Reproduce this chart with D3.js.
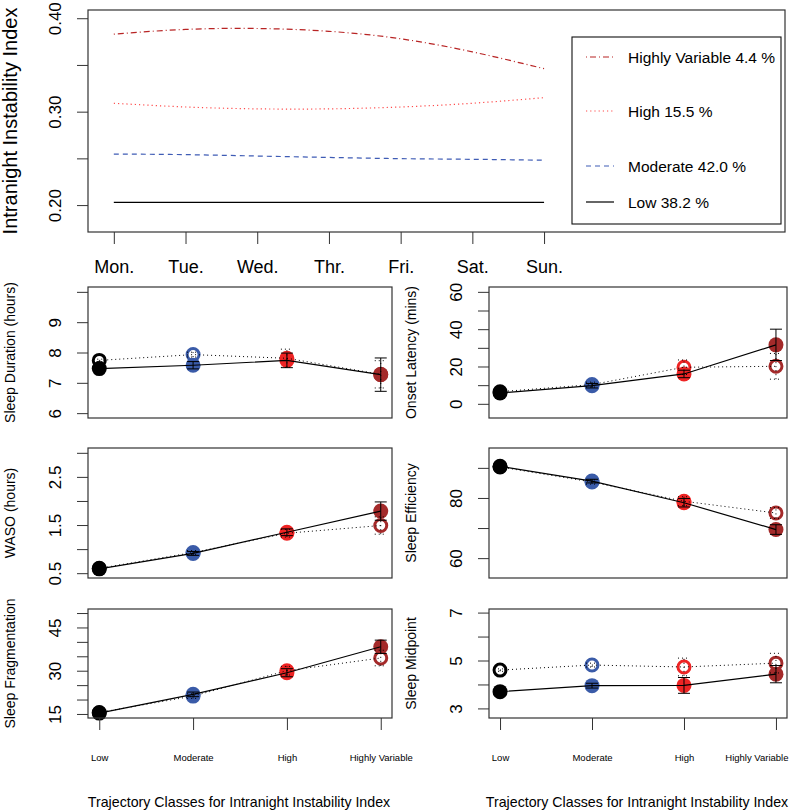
<!DOCTYPE html>
<html>
<head>
<meta charset="utf-8">
<script src="https://cdn.jsdelivr.net/npm/d3@7"></script>
<style>
  body { margin: 0; background: #fff; }
  svg { display: block; }
</style>
</head>
<body>
<div id="container"></div>
<script>
/* DATA */
const days = ["Mon.", "Tue.", "Wed.", "Thr.", "Fri.", "Sat.", "Sun."];
const classes = ["Low", "Moderate", "High", "Highly Variable"];
const classPct = ["38.2", "42.0", "15.5", "4.4"];

// intranight instability index by day, per trajectory class
const iiiLow = [0.203, 0.203, 0.203, 0.203, 0.203, 0.203, 0.203];
const iiiModerate = [0.2546, 0.254, 0.2525, 0.251, 0.2497, 0.249, 0.248];
const iiiHigh = [0.309, 0.305, 0.303, 0.303, 0.305, 0.309, 0.315];
const iiiHighlyVar = [0.383, 0.388, 0.389, 0.386, 0.378, 0.364, 0.346];
const topTicks = [0.20, 0.25, 0.30, 0.35, 0.40];
const topTickLabels = [0.20, 0.30, 0.40];

// small panels: A = filled points / solid line, B = open points / dotted line
const durationA = [7.47, 7.58, 7.74, 7.27], durationErrA = [0.04, 0.12, 0.24, 0.55];
const durationB = [7.74, 7.93, 7.81, 7.28], durationErrB = [0.04, 0.08, 0.3, 0.45];
const durationTicks = [6, 7, 8, 9, 10], durationTickLabels = [6, 7, 8, 9];

const latencyA = [5.8, 9.7, 16.0, 31.6], latencyErrA = [0.5, 1.2, 2.0, 8.4];
const latencyB = [6.5, 10.3, 19.6, 20.1], latencyErrB = [0.6, 1.3, 3.9, 6.9];
const latencyTicks = [0, 10, 20, 30, 40, 50, 60], latencyTickLabels = [0, 20, 40, 60];

const wasoA = [0.59, 0.91, 1.35, 1.79], wasoErrA = [0.02, 0.04, 0.07, 0.19];
const wasoB = [0.60, 0.93, 1.33, 1.49], wasoErrB = [0.02, 0.04, 0.08, 0.18];
const wasoTicks = [0.5, 1.0, 1.5, 2.0, 2.5, 3.0], wasoTickLabels = [0.5, 1.5, 2.5];

const efficiencyA = [90.5, 85.6, 78.4, 69.5], efficiencyErrA = [0.3, 0.6, 1.4, 1.6];
const efficiencyB = [90.3, 85.3, 78.9, 75.0], efficiencyErrB = [0.3, 0.7, 1.5, 1.8];
const efficiencyTicks = [60, 70, 80, 90], efficiencyTickLabels = [60, 80];

const fragA = [15.3, 21.8, 29.3, 38.3], fragErrA = [0.3, 0.8, 1.4, 2.3];
const fragB = [15.5, 21.2, 30.0, 34.4], fragErrB = [0.3, 0.8, 1.5, 2.7];
const fragTicks = [15, 20, 25, 30, 35, 40, 45, 50], fragTickLabels = [15, 30, 45];

const midpointA = [3.70, 3.95, 3.96, 4.43], midpointErrA = [0.05, 0.1, 0.33, 0.36];
const midpointB = [4.60, 4.81, 4.73, 4.89], midpointErrB = [0.05, 0.08, 0.37, 0.41];
const midpointTicks = [3, 4, 5, 6, 7], midpointTickLabels = [3, 5, 7];

/* CONSTANTS */
const width = 790, height = 810;
const FONT = "'Liberation Sans', Arial, Helvetica, sans-serif";
const classColors = ["#000000", "#3a5ba8", "#ee2424", "#a42a2a"];
const boxStroke = "#333";

const svg = d3.select("#container").append("svg")
  .attr("width", width)
  .attr("height", height)
  .style("font-family", FONT);

/* TOP PANEL */
function drawTop() {
  const xScale = d3.scaleLinear().domain([0.64, 10.36]).range([88, 785]);
  const yScale = d3.scaleLinear().domain([0.1712, 0.4088]).range([232, 10]);

  const series = [
    { name: "Highly Variable", pct: classPct[3], values: iiiHighlyVar, color: "#b82424", dash: "1,3,6,3" },
    { name: "High", pct: classPct[2], values: iiiHigh, color: "#ff4a4a", dash: "1.2,3" },
    { name: "Moderate", pct: classPct[1], values: iiiModerate, color: "#3f5cb5", dash: "5,4" },
    { name: "Low", pct: classPct[0], values: iiiLow, color: "#000", dash: null }
  ];

  const line = d3.line()
    .x((d, i) => xScale(i + 1))
    .y(d => yScale(d))
    .curve(d3.curveNatural);

  svg.append("g").selectAll("path")
    .data(series)
    .join("path")
    .attr("d", d => line(d.values))
    .attr("fill", "none")
    .attr("stroke", d => d.color)
    .attr("stroke-width", 1.2)
    .attr("stroke-dasharray", d => d.dash);

  // y axis
  const yAxis = svg.append("g")
    .attr("transform", "translate(88,0)")
    .call(d3.axisLeft(yScale).tickValues(topTicks).tickSize(11)
      .tickFormat(d => topTickLabels.some(v => Math.abs(v - d) < 1e-9) ? d3.format(".2f")(d) : ""));
  yAxis.select(".domain").remove();
  yAxis.selectAll("line").attr("stroke", boxStroke);
  yAxis.selectAll("text")
    .attr("x", null).attr("dy", null)
    .attr("transform", "translate(-33,0) rotate(-90)")
    .attr("text-anchor", "middle")
    .attr("dominant-baseline", "central")
    .attr("fill", "#000")
    .style("font-size", "17px")
    .style("font-family", FONT);

  // x axis
  const xAxis = svg.append("g")
    .attr("transform", "translate(0,232)")
    .call(d3.axisBottom(xScale).tickValues(d3.range(1, 8)).tickSize(12)
      .tickFormat(d => days[d - 1]));
  xAxis.select(".domain").remove();
  xAxis.selectAll("line").attr("stroke", boxStroke);
  xAxis.selectAll("text")
    .attr("y", 35).attr("dy", null)
    .attr("dominant-baseline", "central")
    .attr("fill", "#000")
    .style("font-size", "18px")
    .style("font-family", FONT);

  svg.append("rect")
    .attr("x", 88).attr("y", 10)
    .attr("width", 785 - 88).attr("height", 232 - 10)
    .attr("fill", "none").attr("stroke", boxStroke).attr("stroke-width", 1.2);

  svg.append("text")
    .attr("transform", "translate(10,121) rotate(-90)")
    .attr("text-anchor", "middle")
    .attr("dominant-baseline", "central")
    .style("font-size", "20px")
    .text("Intranight Instability Index");

  // legend
  const lg = svg.append("g");
  lg.append("rect")
    .attr("x", 572).attr("y", 37).attr("width", 209).attr("height", 187)
    .attr("fill", "#fff").attr("stroke", "#111").attr("stroke-width", 1.1);
  const legendY = [57, 111, 166, 202];
  series.forEach((s, i) => {
    lg.append("line")
      .attr("x1", 586).attr("x2", 614)
      .attr("y1", legendY[i]).attr("y2", legendY[i])
      .attr("stroke", s.color).attr("stroke-width", 1.2)
      .attr("stroke-dasharray", s.dash);
    lg.append("text")
      .attr("x", 628).attr("y", legendY[i])
      .attr("dominant-baseline", "central")
      .style("font-size", "15.5px")
      .text(`${s.name} ${s.pct} %`);
  });
}

/* SMALL PANELS */
function drawPanel(p) {
  const xScale = d3.scaleLinear().domain([0.88, 4.12]).range([p.x0, p.x1]);
  const yScale = d3.scaleLinear().domain(p.domain).range([p.y1, p.y0]);
  const g = svg.append("g");

  const ptsA = p.a.map((v, i) => ({ x: i + 1, y: v, e: p.ea[i], c: classColors[i] }));
  const ptsB = p.b.map((v, i) => ({ x: i + 1, y: v, e: p.eb[i], c: classColors[i] }));

  // filled points
  g.selectAll(".ptA").data(ptsA).join("circle")
    .attr("class", "ptA")
    .attr("cx", d => xScale(d.x)).attr("cy", d => yScale(d.y))
    .attr("r", 7.5).attr("fill", d => d.c);

  // open points (transparent rings)
  g.selectAll(".ptB").data(ptsB).join("circle")
    .attr("class", "ptB")
    .attr("cx", d => xScale(d.x)).attr("cy", d => yScale(d.y))
    .attr("r", 6).attr("fill", "none")
    .attr("stroke", d => d.c).attr("stroke-width", 3);

  const line = d3.line().x(d => xScale(d.x)).y(d => yScale(d.y));
  g.append("path").attr("d", line(ptsB))
    .attr("fill", "none").attr("stroke", "#000").attr("stroke-width", 1)
    .attr("stroke-dasharray", "1,3");
  g.append("path").attr("d", line(ptsA))
    .attr("fill", "none").attr("stroke", "#000").attr("stroke-width", 1.2);

  // error bars
  [[ptsA, null], [ptsB, "1,3"]].forEach(([pts, dash]) => {
    pts.forEach(d => {
      const cx = xScale(d.x), lo = yScale(d.y - d.e), hi = yScale(d.y + d.e);
      const bar = g.append("g")
        .attr("stroke", "#000").attr("stroke-width", 1)
        .attr("stroke-dasharray", dash);
      bar.append("line").attr("x1", cx).attr("x2", cx).attr("y1", lo).attr("y2", hi);
      bar.append("line").attr("x1", cx - 6).attr("x2", cx + 6).attr("y1", lo).attr("y2", lo);
      bar.append("line").attr("x1", cx - 6).attr("x2", cx + 6).attr("y1", hi).attr("y2", hi);
    });
  });

  // y axis
  const yAxis = svg.append("g")
    .attr("transform", `translate(${p.x0},0)`)
    .call(d3.axisLeft(yScale).tickValues(p.ticks).tickSize(11)
      .tickFormat(d => p.labels.some(v => Math.abs(v - d) < 1e-9) ? d3.format(p.fmt)(d) : ""));
  yAxis.select(".domain").remove();
  yAxis.selectAll("line").attr("stroke", boxStroke);
  yAxis.selectAll("text")
    .attr("x", null).attr("dy", null)
    .attr("transform", "translate(-33,0) rotate(-90)")
    .attr("text-anchor", "middle")
    .attr("dominant-baseline", "central")
    .attr("fill", "#000")
    .style("font-size", "17px")
    .style("font-family", FONT);

  svg.append("text")
    .attr("transform", `translate(${p.x0 - 78},${(p.y0 + p.y1) / 2}) rotate(-90)`)
    .attr("text-anchor", "middle")
    .attr("dominant-baseline", "central")
    .style("font-size", "14px")
    .text(p.title);

  if (p.bottom) {
    const xAxis = svg.append("g")
      .attr("transform", `translate(0,${p.y1})`)
      .call(d3.axisBottom(xScale).tickValues([1, 2, 3, 4]).tickSize(12)
        .tickFormat(d => classes[d - 1]));
    xAxis.select(".domain").remove();
    xAxis.selectAll("line").attr("stroke", boxStroke);
    xAxis.selectAll("text")
      .attr("y", 39).attr("dy", null)
      .attr("dominant-baseline", "central")
      .attr("fill", "#000")
      .style("font-size", "9.5px")
      .style("font-family", FONT);
    // keep the last label inside the page
    xAxis.selectAll(".tick").each(function (d) {
      const t = d3.select(this).select("text");
      const tx = xScale(d), w = t.node().getComputedTextLength();
      if (tx + w / 2 > width - 2) {
        t.attr("text-anchor", "end").attr("x", width - 2 - tx);
      }
    });

    svg.append("text")
      .attr("x", (p.x0 + p.x1) / 2 - 1).attr("y", 802)
      .attr("text-anchor", "middle")
      .attr("dominant-baseline", "central")
      .style("font-size", "14.2px")
      .text("Trajectory Classes for Intranight Instability Index");
  }

  svg.append("rect")
    .attr("x", p.x0).attr("y", p.y0)
    .attr("width", p.x1 - p.x0).attr("height", p.y1 - p.y0)
    .attr("fill", "none").attr("stroke", boxStroke).attr("stroke-width", 1.2);
}

const L = [88, 392], R = [489, 787];
const rows = [[287, 418], [448, 578], [609, 718]];

const panels = [
  { col: L, row: rows[0], title: "Sleep Duration (hours)", a: durationA, ea: durationErrA, b: durationB, eb: durationErrB,
    domain: [5.84, 10.16], ticks: durationTicks, labels: durationTickLabels, fmt: "d" },
  { col: R, row: rows[0], title: "Onset Latency (mins)", a: latencyA, ea: latencyErrA, b: latencyB, eb: latencyErrB,
    domain: [-7.6, 62.6], ticks: latencyTicks, labels: latencyTickLabels, fmt: "d" },
  { col: L, row: rows[1], title: "WASO (hours)", a: wasoA, ea: wasoErrA, b: wasoB, eb: wasoErrB,
    domain: [0.4, 3.1], ticks: wasoTicks, labels: wasoTickLabels, fmt: ".1f" },
  { col: R, row: rows[1], title: "Sleep Efficiency", a: efficiencyA, ea: efficiencyErrA, b: efficiencyB, eb: efficiencyErrB,
    domain: [53.4, 96.6], ticks: efficiencyTicks, labels: efficiencyTickLabels, fmt: "d" },
  { col: L, row: rows[2], title: "Sleep Fragmentation", a: fragA, ea: fragErrA, b: fragB, eb: fragErrB,
    domain: [13.6, 51.4], ticks: fragTicks, labels: fragTickLabels, fmt: "d", bottom: true },
  { col: R, row: rows[2], title: "Sleep Midpoint", a: midpointA, ea: midpointErrA, b: midpointB, eb: midpointErrB,
    domain: [2.6, 7.15], ticks: midpointTicks, labels: midpointTickLabels, fmt: "d", bottom: true }
];

drawTop();
panels.forEach(p => drawPanel(Object.assign(p, { x0: p.col[0], x1: p.col[1], y0: p.row[0], y1: p.row[1] })));
</script>
</body>
</html>
